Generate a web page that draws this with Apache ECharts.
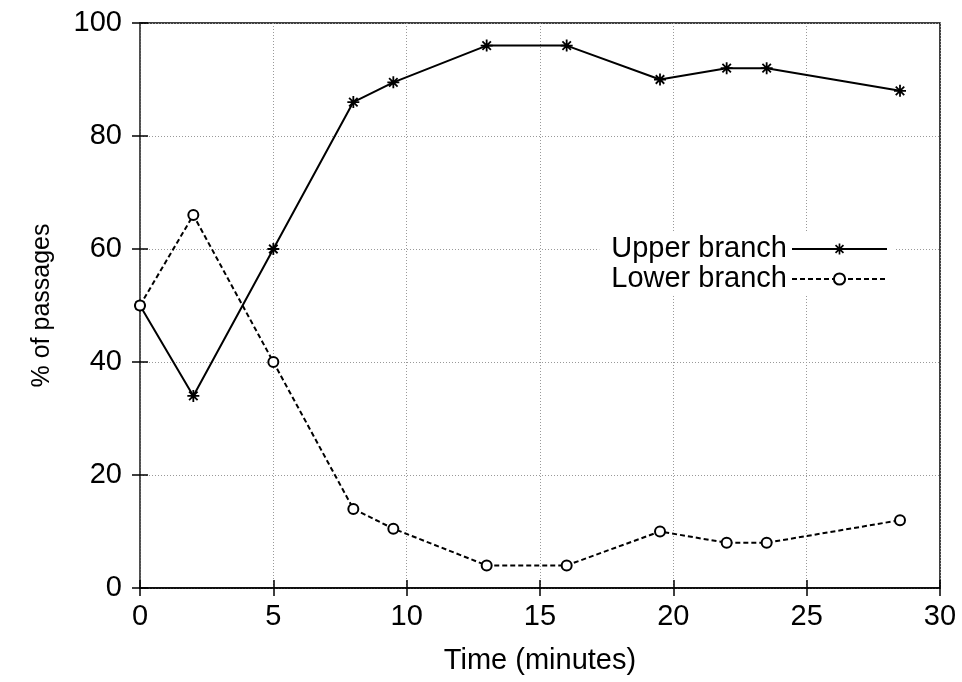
<!DOCTYPE html>
<html>
<head>
<meta charset="utf-8">
<script src="https://cdn.jsdelivr.net/npm/echarts@6/dist/echarts.min.js"></script>
<style>
  html, body { margin: 0; padding: 0; background: #fff; }
  #chart { width: 962px; height: 682px; }
</style>
</head>
<body>
<div id="chart"></div>
<script>
// time of each measurement (minutes)
var times = [0, 2, 5, 8, 9.5, 13, 16, 19.5, 22, 23.5, 28.5];
// % of passages per branch
var upperBranch = [50, 34, 60, 86, 89.5, 96, 96, 90, 92, 92, 88];
var lowerBranch = [50, 66, 40, 14, 10.5, 4, 4, 10, 8, 8, 12];

var seriesNames = ["Upper branch", "Lower branch"];

// gnuplot style "*" marker (+ and x), built from four filled bars
var asterisk = "path://M-1.5,-10L1.5,-10L1.5,10L-1.5,10Z" +
  "M-10,-1.5L10,-1.5L10,1.5L-10,1.5Z" +
  "M-6.01,-8.13L8.13,6.01L6.01,8.13L-8.13,-6.01Z" +
  "M6.01,-8.13L8.13,-6.01L-6.01,8.13L-8.13,6.01Z";

function pairs(xs, ys) {
  return xs.map(function (x, i) { return [x, ys[i]]; });
}

var font = "Liberation Sans";
var chart = echarts.init(document.getElementById("chart"));

var gridLine = { show: true, lineStyle: { color: "#999", type: [1, 2], width: 1 } };
var innerTick = { show: true, inside: true, length: 8, lineStyle: { color: "#000", width: 1.5 } };

chart.setOption({
  animation: false,
  textStyle: { fontFamily: font },
  grid: { left: 140, right: 22, top: 23, bottom: 94, show: true, borderColor: "#000", borderWidth: 1.5 },
  legend: {
    data: seriesNames,
    right: 68,
    top: 232,
    orient: "vertical",
    align: "right",
    itemWidth: 95,
    itemHeight: 14,
    itemGap: 0,
    padding: [2, 6, 2, 12],
    backgroundColor: "#fff",
    textStyle: { fontSize: 29, lineHeight: 30, color: "#000", fontFamily: font }
  },
  xAxis: [
    {
      type: "value",
      min: 0, max: 30, interval: 5,
      name: "Time (minutes)",
      nameLocation: "middle",
      nameGap: 58,
      nameTextStyle: { fontSize: 29, color: "#000", fontFamily: font },
      axisLine: { show: true, lineStyle: { color: "#000", width: 1.5 } },
      axisTick: innerTick,
      axisLabel: { fontSize: 29, color: "#000", margin: 14 },
      splitLine: gridLine
    },
    {
      type: "value", position: "top",
      min: 0, max: 30, interval: 5,
      axisLine: { show: false },
      axisTick: innerTick,
      axisLabel: { show: false },
      splitLine: { show: false }
    }
  ],
  yAxis: [
    {
      type: "value",
      min: 0, max: 100, interval: 20,
      name: "% of passages",
      nameLocation: "middle",
      nameGap: 85,
      nameTextStyle: { fontSize: 25, color: "#000", fontFamily: font },
      axisLine: { show: true, lineStyle: { color: "#555", width: 1.5 } },
      axisTick: innerTick,
      axisLabel: { fontSize: 29, color: "#000", margin: 18 },
      splitLine: gridLine
    },
    {
      type: "value", position: "right",
      min: 0, max: 100, interval: 20,
      axisLine: { show: false },
      axisTick: innerTick,
      axisLabel: { show: false },
      splitLine: { show: false }
    }
  ],
  series: [
    {
      name: seriesNames[0],
      type: "line",
      data: pairs(times, upperBranch),
      symbol: asterisk,
      symbolSize: 12,
      itemStyle: { color: "#000" },
      lineStyle: { color: "#000", width: 2, type: "solid" }
    },
    {
      name: seriesNames[1],
      type: "line",
      data: pairs(times, lowerBranch),
      symbol: "emptyCircle",
      symbolSize: 10,
      itemStyle: { color: "#000", borderWidth: 1.8 },
      lineStyle: { color: "#000", width: 2, type: [5, 3] }
    }
  ]
});
</script>
</body>
</html>
